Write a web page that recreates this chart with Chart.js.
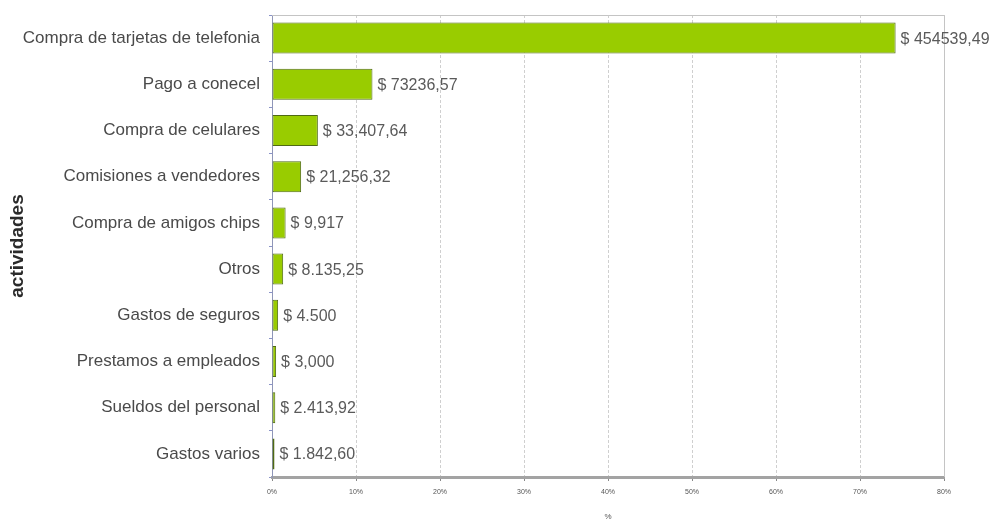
<!DOCTYPE html>
<html>
<head>
<meta charset="utf-8">
<script src="https://cdn.jsdelivr.net/npm/chart.js@4/dist/chart.umd.min.js"></script>
<style>
  html, body { margin: 0; padding: 0; background: #fff; }
  #wrap { width: 995px; height: 522px; }
</style>
</head>
<body>
<div id="wrap"><canvas id="chart"></canvas></div>
<script>
const actividades = [
  "Compra de tarjetas de telefonia",
  "Pago a conecel",
  "Compra de celulares",
  "Comisiones a vendedores",
  "Compra de amigos chips",
  "Otros",
  "Gastos de seguros",
  "Prestamos a empleados",
  "Sueldos del personal",
  "Gastos varios"
];
// share of total, in %
const porcentajes = [74.24, 11.96, 5.46, 3.47, 1.62, 1.33, 0.73, 0.49, 0.39, 0.30];
const montos = [
  "$ 454539,49", "$ 73236,57", "$ 33,407,64", "$ 21,256,32", "$ 9,917",
  "$ 8.135,25", "$ 4.500", "$ 3,000", "$ 2.413,92", "$ 1.842,60"
];
const xTicks = [0, 10, 20, 30, 40, 50, 60, 70, 80];

const FONT = "'Liberation Sans', Arial, sans-serif";

// amount labels to the right of each bar
const montoLabels = {
  id: "montoLabels",
  afterDatasetsDraw(chart) {
    const ctx = chart.ctx;
    const meta = chart.getDatasetMeta(0);
    ctx.save();
    ctx.font = "16px " + FONT;
    ctx.fillStyle = "#5a5a5a";
    ctx.textBaseline = "middle";
    ctx.textAlign = "left";
    meta.data.forEach((bar, i) => {
      ctx.fillText(montos[i], bar.x + 5, bar.y + 1);
    });
    ctx.restore();
  }
};

// top and right frame of the plot
const plotFrame = {
  id: "plotFrame",
  beforeDatasetsDraw(chart) {
    const { ctx, chartArea: a } = chart;
    ctx.save();
    ctx.strokeStyle = "#c4c4c4";
    ctx.lineWidth = 1;
    ctx.beginPath();
    ctx.moveTo(a.left, a.top + 0.5);
    ctx.lineTo(a.right + 0.5, a.top + 0.5);
    ctx.lineTo(a.right + 0.5, a.bottom);
    ctx.stroke();
    ctx.restore();
  }
};

new Chart(document.getElementById("chart"), {
  type: "bar",
  data: {
    labels: actividades,
    datasets: [{
      data: porcentajes,
      backgroundColor: "#99cc00",
      borderColor: "#4f6a14",
      borderWidth: 1,
      borderSkipped: false,
      categoryPercentage: 0.67,
      barPercentage: 1
    }]
  },
  options: {
    indexAxis: "y",
    responsive: true,
    maintainAspectRatio: false,
    animation: false,
    layout: { padding: { top: 15, right: 51, bottom: 0, left: 0 } },
    plugins: {
      legend: { display: false },
      tooltip: { enabled: false }
    },
    scales: {
      x: {
        min: 0,
        max: 80,
        afterBuildTicks(scale) {
          scale.ticks = xTicks.map(v => ({ value: v }));
        },
        afterFit(scale) {
          scale.height = 45;
          scale.paddingLeft = 0;
          scale.paddingRight = 0;
        },
        grid: {
          color: "#cfcfcf",
          tickColor: "#888",
          tickLength: 4,
          drawTicks: true
        },
        border: { color: "#a3a3a3", width: 3, dash: [3, 2] },
        ticks: {
          font: { size: 7, family: FONT },
          color: "#555",
          padding: 7,
          callback: v => v + "%"
        },
        title: {
          display: true,
          text: "%",
          font: { size: 8, family: FONT },
          color: "#555",
          padding: { top: 10, bottom: 0 }
        }
      },
      y: {
        afterFit(scale) {
          scale.width = 272;
          scale.paddingTop = 0;
          scale.paddingBottom = 0;
        },
        grid: {
          offset: true,
          drawOnChartArea: false,
          tickColor: "#8a93c8",
          tickLength: 3
        },
        border: { color: "#8f96b8", width: 1 },
        ticks: {
          font: { size: 17, family: FONT },
          color: "#4a4a4a",
          padding: 9
        },
        title: {
          display: true,
          text: "actividades",
          font: { size: 19, weight: "bold", family: FONT },
          color: "#2a2a2a",
          padding: { top: 6, bottom: 0 }
        }
      }
    }
  },
  plugins: [montoLabels, plotFrame]
});
</script>
</body>
</html>
